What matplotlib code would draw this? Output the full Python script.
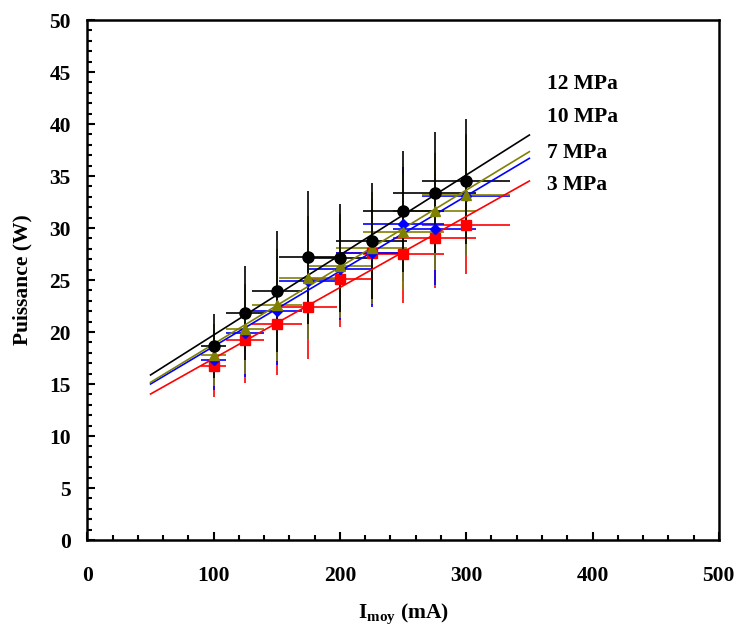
import matplotlib.pyplot as plt
from matplotlib.ticker import MultipleLocator

plt.rcParams['font.family'] = ['Liberation Serif', 'DejaVu Serif']
plt.rcParams['font.weight'] = 'bold'
plt.rcParams['mathtext.fontset'] = 'custom'
plt.rcParams['mathtext.rm'] = 'Liberation Serif:bold'
plt.rcParams['mathtext.bf'] = 'Liberation Serif:bold'

# courant moyen (mA)
current = [100, 125, 150, 175, 200, 225, 250, 275, 300]
xerr = [10, 15, 20, 23, 25, 28, 32, 33, 35]

p3 = [16.7, 19.2, 20.8, 22.4, 25.1, 27.6, 27.5, 29.0, 30.3]
p3_err = [2.95, 4.1, 4.9, 5.0, 4.6, 5.0, 4.7, 4.8, 4.7]
p7 = [17.3, 19.9, 22.05, 24.9, 26.1, 27.6, 30.4, 29.9, 33.1]
p7_err = [2.9, 4.2, 5.2, 5.6, 4.9, 5.2, 5.5, 5.4, 5.7]
p10 = [17.8, 20.3, 22.6, 25.2, 26.3, 28.1, 29.6, 31.6, 33.2]
p10_err = [3.0, 4.3, 5.4, 6.0, 5.0, 5.4, 5.6, 5.6, 5.8]
p12 = [18.65, 21.8, 23.9, 27.2, 27.1, 28.75, 31.6, 33.4, 34.5]
p12_err = [3.1, 4.5, 5.8, 6.4, 5.2, 5.6, 5.8, 5.8, 6.0]

# droites de tendance : valeur a 50 mA et a 350 mA
fit_x = [50, 350]
fit3 = [14.04, 34.52]
fit7 = [15.0, 36.7]
fit10 = [15.16, 37.34]
fit12 = [15.87, 38.94]

labels = ['12 MPa', '10 MPa', '7 MPa', '3 MPa']
label_y = [43.85, 40.7, 37.2, 34.1]

series = [
    (p3, p3_err, fit3, '#FF0000', 's', 7),
    (p7, p7_err, fit7, '#0000FF', 'D', 5.5),
    (p10, p10_err, fit10, '#808000', '^', 7.5),
    (p12, p12_err, fit12, '#000000', 'o', 8),
]

fig = plt.figure(figsize=(7.41, 6.31), dpi=100)
ax = fig.add_axes([0.118, 0.1442, 0.852, 0.8241])

for y, yerr, fit, c, m, ms in series:
    ax.errorbar(current, y, yerr=yerr, xerr=xerr, fmt='none', ecolor=c,
                elinewidth=1.2, capsize=0, zorder=2)
for y, yerr, fit, c, m, ms in series:
    ax.plot(fit_x, fit, color=c, lw=1.2, zorder=3)
for y, yerr, fit, c, m, ms in series:
    ax.plot(current, y, linestyle='none', marker=m, ms=ms, color=c,
            markeredgecolor=c, zorder=4)

for lab, ly in zip(labels, label_y):
    ax.text(364, ly, lab, fontsize=15.5, fontweight='bold', va='center', ha='left')

ax.set_xlim(0, 500)
ax.set_ylim(0, 50)
ax.xaxis.set_major_locator(MultipleLocator(100))
ax.xaxis.set_minor_locator(MultipleLocator(20))
ax.yaxis.set_major_locator(MultipleLocator(5))
ax.yaxis.set_minor_locator(MultipleLocator(1))
ax.tick_params(which='both', direction='in', top=False, right=False, width=1.5,
               labelsize=15.5)
ax.tick_params(which='major', length=5.5)
ax.tick_params(which='minor', length=3.6)
ax.tick_params(axis='x', which='major', pad=19)
ax.tick_params(axis='y', which='major', pad=12)
for lab in ax.get_xticklabels() + ax.get_yticklabels():
    lab.set_fontweight('bold')
for s in ax.spines.values():
    s.set_linewidth(1.8)

ax.set_xlabel(r'I$_{\mathbf{moy}}$ (mA)', fontsize=15.5, fontweight='bold', labelpad=11)
ax.set_ylabel('Puissance (W)', fontsize=15.5, fontweight='bold', labelpad=12)

plt.savefig('out.png', dpi=100)
